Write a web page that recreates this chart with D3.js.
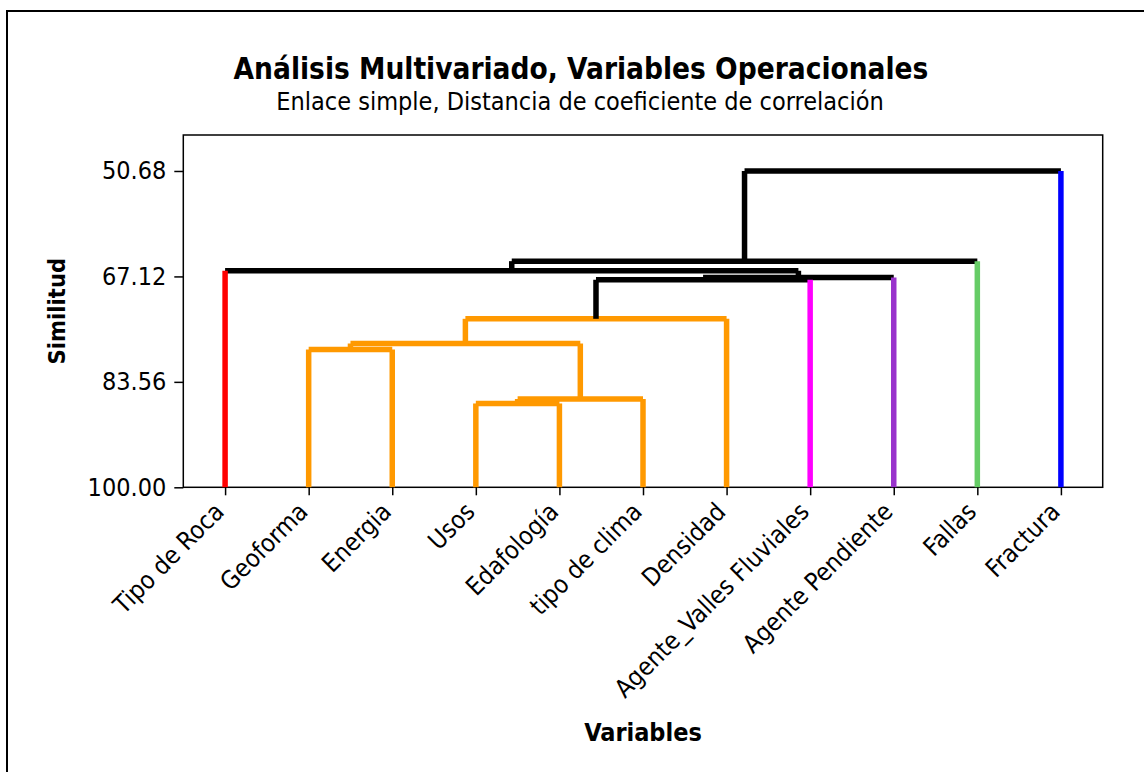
<!DOCTYPE html>
<html>
<head>
<meta charset="utf-8">
<script src="https://cdn.jsdelivr.net/npm/d3@7"></script>
<style>
  html, body { margin: 0; padding: 0; background: #ffffff; }
  svg { display: block; }
  text { font-family: "DejaVu Sans Condensed", "DejaVu Sans", sans-serif; font-stretch: condensed; fill: #000; }
</style>
</head>
<body>
<svg id="chart" width="1144" height="772"></svg>
<script>
// Variables (dendrogram leaves, in display order) and their cluster colours
const variables = [
  "Tipo de Roca", "Geoforma", "Energia", "Usos", "Edafología", "tipo de clima",
  "Densidad", "Agente_Valles Fluviales", "Agente Pendiente", "Fallas", "Fractura"
];
const leafColors = [
  "#ff0000", "#ff9900", "#ff9900", "#ff9900", "#ff9900", "#ff9900",
  "#ff9900", "#ff00ff", "#9933cc", "#66cc66", "#0000ff"
];

// Linkage steps: ids < 11 are variables, id 11 + k is the cluster formed at step k
const joinLeft  = [3, 11, 1, 13, 14, 15, 16, 0, 18, 19];
const joinRight = [4, 5, 2, 12, 6, 7, 8, 17, 9, 10];
const joinSimilarity = [86.93, 86.23, 78.51, 77.58, 73.73, 67.64, 67.30, 66.24, 64.74, 50.68];

// Axis ticks
const similarityTicks = [50.68, 67.12, 83.56, 100.00];

const svg = d3.select("#chart");
const plot = { left: 183.3, right: 1102.7, top: 135, bottom: 487.3 };
const lineW = 5.5;

// Outer frame of the graph window
svg.append("rect")
  .attr("x", 7).attr("y", 11).attr("width", 1160).attr("height", 790)
  .attr("fill", "none").attr("stroke", "#000").attr("stroke-width", 2);

const x = d3.scalePoint()
  .domain(d3.range(variables.length))
  .range([plot.left, plot.right])
  .padding(0.5);

const y = d3.scaleLinear()
  .domain([45.07, 100])
  .range([plot.top, plot.bottom]);

// Position, height and colour of every node (leaves then clusters)
const nodes = variables.map((v, i) => ({ x: x(i), sim: 100, color: leafColors[i], leaf: true }));
joinLeft.forEach((a, k) => {
  const A = nodes[a], B = nodes[joinRight[k]];
  nodes.push({
    x: (A.x + B.x) / 2,
    sim: joinSimilarity[k],
    color: A.color === B.color ? A.color : "#000000",
    leaf: false,
    a: A, b: B
  });
});

// Plot frame
svg.append("rect")
  .attr("x", plot.left).attr("y", plot.top)
  .attr("width", plot.right - plot.left).attr("height", plot.bottom - plot.top)
  .attr("fill", "none").attr("stroke", "#000").attr("stroke-width", 1.5);

const gLinks = svg.append("g")
  .attr("fill", "none")
  .attr("stroke-width", lineW)
  .attr("stroke-linejoin", "round");

const merges = nodes.filter(n => !n.leaf);

// Horizontal bar of each merge, with the vertical risers of child clusters
merges.forEach(n => {
  const ys = y(n.sim);
  [n.a, n.b].forEach(c => {
    if (!c.leaf) {
      gLinks.append("path")
        .attr("d", d3.line()([[c.x, y(c.sim)], [c.x, ys]]))
        .attr("stroke", n.color);
    }
  });
  gLinks.append("path")
    .attr("d", d3.line()([[n.a.x, ys], [n.b.x, ys]]))
    .attr("stroke", n.color);
});

// Leaf stems, coloured by their variable, rising to the merge that joins them
const parentSim = new Map();
merges.forEach(n => { parentSim.set(n.a, n.sim); parentSim.set(n.b, n.sim); });
nodes.filter(n => n.leaf).forEach(n => {
  gLinks.append("path")
    .attr("d", d3.line()([[n.x, y(100)], [n.x, y(parentSim.get(n))]]))
    .attr("stroke", n.color);
});

// Y axis
const yAxis = svg.append("g")
  .attr("transform", `translate(${plot.left},0)`)
  .call(d3.axisLeft(y).tickValues(similarityTicks).tickFormat(d3.format(".2f"))
    .tickSize(9).tickSizeOuter(0).tickPadding(8));
yAxis.select(".domain").remove();
yAxis.selectAll("line").attr("stroke", "#000").attr("stroke-width", 1.5);
yAxis.selectAll("text").attr("font-size", 25).attr("font-family", null).attr("fill", "#000");

// X axis
const xAxis = svg.append("g")
  .attr("transform", `translate(0,${plot.bottom})`)
  .call(d3.axisBottom(x).tickFormat(i => variables[i]).tickSize(8).tickSizeOuter(0));
xAxis.select(".domain").remove();
xAxis.selectAll("line").attr("stroke", "#000").attr("stroke-width", 1.5);
xAxis.selectAll("text")
  .attr("font-size", 25).attr("font-family", null).attr("fill", "#000")
  .attr("x", 0).attr("y", 0).attr("dy", 0)
  .attr("text-anchor", "end")
  .attr("transform", "translate(0,26) rotate(-45)");

// Titles
svg.append("text")
  .attr("x", 581).attr("y", 79)
  .attr("text-anchor", "middle")
  .attr("font-size", 29.5).attr("font-weight", "bold")
  .text("Análisis Multivariado, Variables Operacionales");
svg.append("text")
  .attr("x", 580).attr("y", 110)
  .attr("text-anchor", "middle")
  .attr("font-size", 25)
  .text("Enlace simple, Distancia de coeficiente de correlación");

svg.append("text")
  .attr("transform", `translate(65,${(plot.top + plot.bottom) / 2}) rotate(-90)`)
  .attr("text-anchor", "middle")
  .attr("font-size", 23.5).attr("font-weight", "bold")
  .text("Similitud");

svg.append("text")
  .attr("x", (plot.left + plot.right) / 2).attr("y", 741)
  .attr("text-anchor", "middle")
  .attr("font-size", 25).attr("font-weight", "bold")
  .text("Variables");
</script>
</body>
</html>
